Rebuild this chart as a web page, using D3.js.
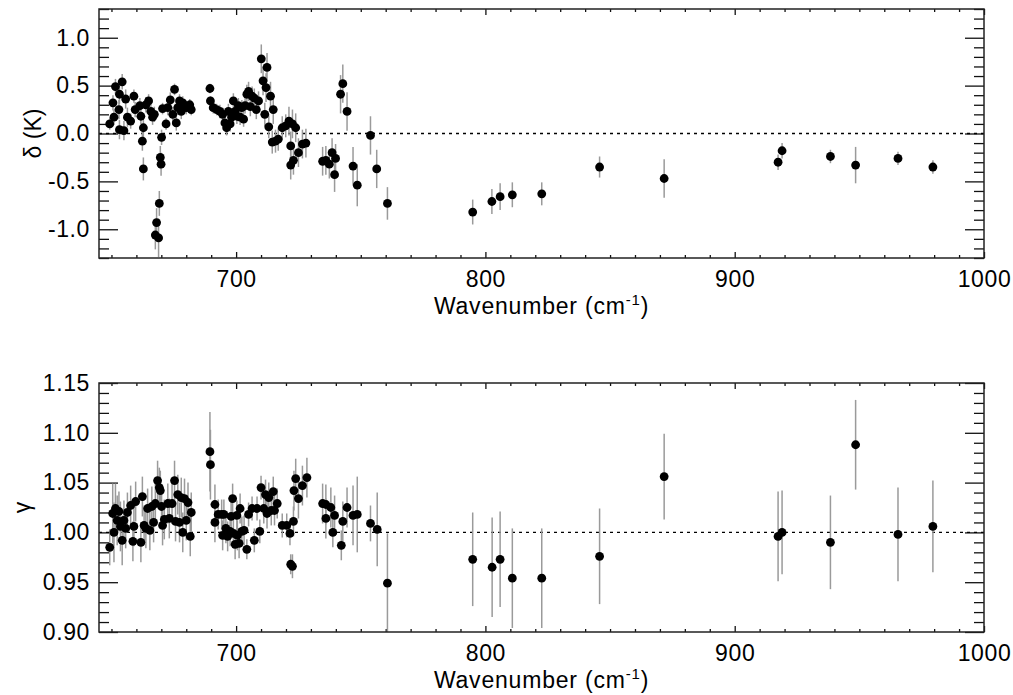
<!DOCTYPE html>
<html>
<head>
<meta charset="utf-8">
<script src="https://cdn.jsdelivr.net/npm/d3@7"></script>
<style>
  body { margin: 0; background: #fff; }
  text { font-family: "Liberation Sans", Arial, Helvetica, sans-serif; fill: #000; }
  .tick text { font-size: 23px; letter-spacing: 0.6px; }
  .tick line { stroke: #111; stroke-width: 1.3; }
</style>
</head>
<body>
<script>
// wavenumbers (cm-1), delta (K) and errors, top panel
var deltaWn = [649.3, 651.0, 650.6, 651.6, 653.0, 653.2, 653.2, 654.3, 655.0, 655.7, 656.4, 657.7, 659.0, 659.5,
  661.4, 661.8, 662.4, 662.8, 662.8, 663.8, 664.9, 665.8, 666.5, 667.2, 667.6, 668.1, 668.9, 669.2, 669.6, 669.9,
  670.1, 670.5, 671.9, 672.6, 673.6, 674.6, 675.3, 676.0, 676.6, 677.3, 678.0, 678.6, 680.0, 681.4, 682.0,
  689.5, 689.7, 690.8, 692.2, 693.5, 694.6, 695.5, 696.2, 696.9, 697.6, 698.2, 698.9, 699.6, 700.3, 700.9,
  701.6, 702.3, 703.0, 703.6, 704.3, 705.0, 705.7, 706.4, 707.3, 708.1, 709.0, 710.1, 710.8, 711.5, 712.0,
  712.4, 713.1, 713.8, 714.5, 714.9, 715.8, 716.9, 718.5, 719.9, 721.2, 721.9, 721.9, 722.6, 723.0, 723.9,
  725.0, 726.6, 728.0, 734.7, 736.0, 737.4, 738.5, 739.5, 739.9, 741.9, 742.8, 744.5, 746.9, 748.6, 753.9,
  756.4, 760.7, 794.9, 802.6, 805.9, 810.8, 822.6, 845.8, 871.7, 917.4, 919.0, 938.4, 948.5, 965.5, 979.5];
var deltaVal = [0.10, 0.17, 0.32, 0.49, 0.25, 0.41, 0.04, 0.54, 0.03, 0.36, 0.17, 0.13, 0.39, 0.25,
  0.29, 0.18, -0.08, 0.06, -0.37, 0.30, 0.34, 0.23, 0.17, 0.20, -1.06, -0.93, -1.09, -0.73, -0.25, -0.32,
  -0.04, 0.26, 0.10, 0.27, 0.35, 0.20, 0.46, 0.11, 0.27, 0.34, 0.23, 0.32, 0.27, 0.30, 0.25,
  0.47, 0.34, 0.27, 0.25, 0.23, 0.20, 0.11, 0.06, 0.23, 0.10, 0.17, 0.34, 0.23, 0.18, 0.29,
  0.17, 0.27, 0.15, 0.29, 0.41, 0.44, 0.28, 0.39, 0.37, 0.25, 0.34, 0.78, 0.55, 0.20, 0.48,
  0.69, 0.07, 0.39, -0.09, 0.25, -0.08, -0.06, 0.06, 0.08, 0.13, -0.13, -0.33, 0.10, -0.28, 0.06,
  -0.20, -0.11, -0.10, -0.29, -0.28, -0.32, -0.20, -0.43, -0.26, 0.41, 0.52, 0.23, -0.34, -0.54, -0.02,
  -0.37, -0.73, -0.82, -0.71, -0.66, -0.64, -0.63, -0.35, -0.47, -0.30, -0.18, -0.24, -0.33, -0.26, -0.35];
var deltaErr = [0.06, 0.08, 0.08, 0.08, 0.10, 0.10, 0.10, 0.08, 0.10, 0.10, 0.10, 0.08, 0.07, 0.08,
  0.08, 0.08, 0.10, 0.10, 0.12, 0.08, 0.07, 0.08, 0.08, 0.08, 0.15, 0.15, 0.20, 0.13, 0.12, 0.12,
  0.08, 0.06, 0.06, 0.08, 0.08, 0.08, 0.06, 0.08, 0.08, 0.07, 0.08, 0.07, 0.07, 0.06, 0.06,
  0.05, 0.05, 0.06, 0.06, 0.07, 0.07, 0.08, 0.08, 0.08, 0.08, 0.08, 0.08, 0.08, 0.08, 0.08,
  0.08, 0.08, 0.08, 0.08, 0.10, 0.10, 0.10, 0.10, 0.10, 0.10, 0.10, 0.15, 0.15, 0.12, 0.15,
  0.15, 0.12, 0.15, 0.12, 0.15, 0.12, 0.12, 0.12, 0.12, 0.15, 0.15, 0.15, 0.15, 0.15, 0.15,
  0.15, 0.15, 0.15, 0.15, 0.15, 0.15, 0.15, 0.18, 0.15, 0.20, 0.20, 0.20, 0.20, 0.22, 0.20,
  0.20, 0.17, 0.13, 0.13, 0.14, 0.13, 0.12, 0.11, 0.20, 0.08, 0.08, 0.07, 0.19, 0.07, 0.07];

// gamma and errors, bottom panel
var gammaWn = [649.3, 651.0, 650.5, 651.6, 652.3, 653.0, 653.6, 654.3, 655.0, 655.7, 656.4, 657.7, 658.6, 659.0,
  659.7, 661.8, 662.4, 663.1, 663.8, 664.5, 665.4, 666.2, 666.9, 667.6, 668.5, 669.2, 669.6, 670.1, 670.5,
  671.2, 672.6, 673.2, 674.3, 675.3, 675.7, 676.6, 677.3, 678.0, 678.6, 679.3, 680.0, 680.7, 681.6, 682.0,
  689.5, 689.7, 691.5, 691.5, 692.8, 694.2, 694.6, 695.1, 695.9, 696.6, 697.6, 698.0, 698.6, 698.9, 699.6,
  700.3, 700.5, 701.2, 701.6, 702.3, 703.2, 704.3, 705.0, 706.4, 707.3, 708.4, 709.5, 710.0, 711.1, 711.8,
  712.4, 713.1, 714.1, 714.9, 715.4, 716.5, 718.5, 720.3, 721.6, 721.9, 722.6, 723.0, 723.2, 723.9, 725.0,
  726.6, 728.4, 734.7, 736.0, 736.0, 738.0, 738.8, 739.5, 742.2, 742.8, 744.5, 746.9, 748.6, 753.9, 756.6,
  760.7, 794.9, 802.7, 805.9, 810.8, 822.6, 845.8, 871.7, 917.4, 919.0, 938.4, 948.5, 965.5, 979.5];
var gammaVal = [0.985, 1.000, 1.019, 1.024, 1.012, 1.021, 1.006, 0.992, 1.012, 1.004, 1.020, 1.027, 0.991, 1.006,
  1.031, 0.990, 1.036, 1.007, 1.004, 1.024, 1.002, 1.026, 1.010, 1.029, 1.052, 1.045, 1.042, 1.026, 1.007,
  1.013, 1.029, 1.014, 1.029, 1.052, 1.011, 1.038, 1.010, 1.035, 1.000, 1.034, 1.012, 1.030, 0.996, 1.020,
  1.081, 1.068, 1.028, 1.010, 1.018, 1.018, 0.997, 1.018, 1.004, 0.996, 1.001, 1.016, 1.034, 0.999, 0.988,
  1.017, 0.997, 0.989, 1.024, 1.001, 1.002, 0.983, 1.018, 1.024, 0.992, 1.024, 1.001, 1.045, 1.024, 1.038,
  1.019, 1.035, 1.022, 1.041, 1.022, 1.029, 1.007, 1.007, 0.999, 0.968, 0.966, 1.011, 1.042, 1.054, 1.034,
  1.047, 1.055, 1.029, 1.028, 1.014, 1.025, 1.000, 1.017, 0.987, 1.011, 1.025, 1.017, 1.018, 1.009, 1.003,
  0.949, 0.973, 0.965, 0.973, 0.954, 0.954, 0.976, 1.056, 0.996, 1.000, 0.990, 1.088, 0.998, 1.006];
var gammaErr = [0.018, 0.030, 0.030, 0.025, 0.025, 0.020, 0.025, 0.025, 0.020, 0.020, 0.020, 0.020, 0.020, 0.020,
  0.020, 0.020, 0.020, 0.020, 0.020, 0.020, 0.020, 0.020, 0.020, 0.020, 0.020, 0.020, 0.020, 0.020, 0.020,
  0.020, 0.020, 0.020, 0.020, 0.020, 0.020, 0.020, 0.020, 0.020, 0.020, 0.020, 0.020, 0.020, 0.020, 0.020,
  0.040, 0.035, 0.020, 0.020, 0.015, 0.015, 0.015, 0.015, 0.015, 0.015, 0.015, 0.015, 0.015, 0.015, 0.015,
  0.015, 0.015, 0.015, 0.015, 0.015, 0.015, 0.010, 0.012, 0.012, 0.012, 0.012, 0.012, 0.012, 0.015, 0.015,
  0.015, 0.015, 0.015, 0.015, 0.015, 0.015, 0.012, 0.012, 0.012, 0.010, 0.012, 0.015, 0.020, 0.020, 0.020,
  0.020, 0.020, 0.020, 0.020, 0.020, 0.020, 0.015, 0.020, 0.015, 0.020, 0.020, 0.030, 0.038, 0.018, 0.037,
  0.050, 0.047, 0.050, 0.048, 0.050, 0.050, 0.048, 0.043, 0.045, 0.042, 0.047, 0.045, 0.047, 0.046];

var xTicks = [700, 800, 900, 1000];
var deltaTicks = [-1.0, -0.5, 0.0, 0.5, 1.0];
var gammaTicks = [0.90, 0.95, 1.00, 1.05, 1.10, 1.15];

var width = 1013, height = 695;
var left = 99, plotW = 885, plotH = 249;

var svg = d3.select("body").append("svg")
    .attr("width", width)
    .attr("height", height);

var x = d3.scaleLinear().domain([645, 1000]).range([0, plotW]);

drawPanel({
    top: 9, id: "d",
    domain: [-1.3, 1.3], ticks: deltaTicks, minorStep: 0.1, fmt: 1,
    ref: 0, label: "\u03b4 (K)", labelX: 33,
    wn: deltaWn, val: deltaVal, err: deltaErr
});
drawPanel({
    top: 383, id: "g",
    domain: [0.90, 1.15], ticks: gammaTicks, minorStep: 0.01, fmt: 2,
    ref: 1, label: "\u03b3", labelX: 22,
    wn: gammaWn, val: gammaVal, err: gammaErr
});

function drawPanel(p) {
    var g = svg.append("g").attr("transform", "translate(" + left + "," + p.top + ")");
    var y = d3.scaleLinear().domain(p.domain).range([plotH, 0]);

    g.append("clipPath").attr("id", "clip-" + p.id)
        .append("rect").attr("width", plotW).attr("height", plotH);

    // minor ticks
    var xMinor = d3.range(650, 1000, 10).filter(function(v){ return v % 100 != 0; });
    var yMinor = d3.range(Math.round(p.domain[0] / p.minorStep), Math.round(p.domain[1] / p.minorStep) + 1)
        .map(function(i){ return +(i * p.minorStep).toFixed(3); })
        .filter(function(v){ return p.ticks.every(function(t){ return Math.abs(t - v) > 1e-6; }); });

    var fmt = function(d){ return d.toFixed(p.fmt); };

    g.append("g").attr("transform", "translate(0," + plotH + ")")
        .call(d3.axisBottom(x).tickValues(xMinor).tickSize(-3).tickFormat(""));
    g.append("g")
        .call(d3.axisTop(x).tickValues(xMinor).tickSize(-3).tickFormat(""));
    g.append("g")
        .call(d3.axisLeft(y).tickValues(yMinor).tickSize(-10).tickFormat(""));
    g.append("g").attr("transform", "translate(" + plotW + ",0)")
        .call(d3.axisRight(y).tickValues(yMinor).tickSize(-10).tickFormat(""));

    // major ticks
    g.append("g").attr("transform", "translate(0," + plotH + ")")
        .call(d3.axisBottom(x).tickValues(xTicks).tickSize(-6).tickPadding(13).tickFormat(d3.format("d")));
    g.append("g")
        .call(d3.axisTop(x).tickValues(xTicks).tickSize(-6).tickFormat(""));
    g.append("g")
        .call(d3.axisLeft(y).tickValues(p.ticks).tickSize(-19).tickPadding(9).tickFormat(fmt));
    g.append("g").attr("transform", "translate(" + plotW + ",0)")
        .call(d3.axisRight(y).tickValues(p.ticks).tickSize(-19).tickFormat(""));

    g.selectAll(".domain").remove();

    // reference line
    g.append("line")
        .attr("x1", 0).attr("x2", plotW)
        .attr("y1", y(p.ref)).attr("y2", y(p.ref))
        .attr("stroke", "#000").attr("stroke-width", 1.3)
        .attr("stroke-dasharray", "3,4");

    var pts = p.wn.map(function(w, i){ return {wn: w, v: p.val[i], e: p.err[i]}; });
    var data = g.append("g").attr("clip-path", "url(#clip-" + p.id + ")");

    data.selectAll(".err")
        .data(pts)
        .enter().append("line")
        .attr("class", "err")
        .attr("x1", function(d){ return x(d.wn); })
        .attr("x2", function(d){ return x(d.wn); })
        .attr("y1", function(d){ return y(d.v - d.e); })
        .attr("y2", function(d){ return y(d.v + d.e); })
        .attr("stroke", "#9a9a9a")
        .attr("stroke-width", 1.5);

    data.selectAll(".pt")
        .data(pts)
        .enter().append("circle")
        .attr("class", "pt")
        .attr("cx", function(d){ return x(d.wn); })
        .attr("cy", function(d){ return y(d.v); })
        .attr("r", 4.4)
        .attr("fill", "#000");

    // frame
    g.append("rect")
        .attr("width", plotW).attr("height", plotH)
        .attr("fill", "none").attr("stroke", "#222").attr("stroke-width", 1.5);

    // axis titles
    var xt = g.append("text")
        .attr("x", plotW / 2).attr("y", plotH + 56)
        .attr("text-anchor", "middle")
        .style("font-size", "23px").style("letter-spacing", "0.8px");
    xt.append("tspan").text("Wavenumber (cm");
    xt.append("tspan").attr("dy", -9).style("font-size", "15px").text("-1");
    xt.append("tspan").attr("dy", 9).text(")");

    svg.append("text")
        .attr("transform", "translate(" + p.labelX + "," + (p.top + plotH / 2) + ") rotate(-90)")
        .attr("text-anchor", "middle")
        .attr("dy", "0.35em")
        .style("font-size", "23px")
        .text(p.label);
}
</script>
</body>
</html>
